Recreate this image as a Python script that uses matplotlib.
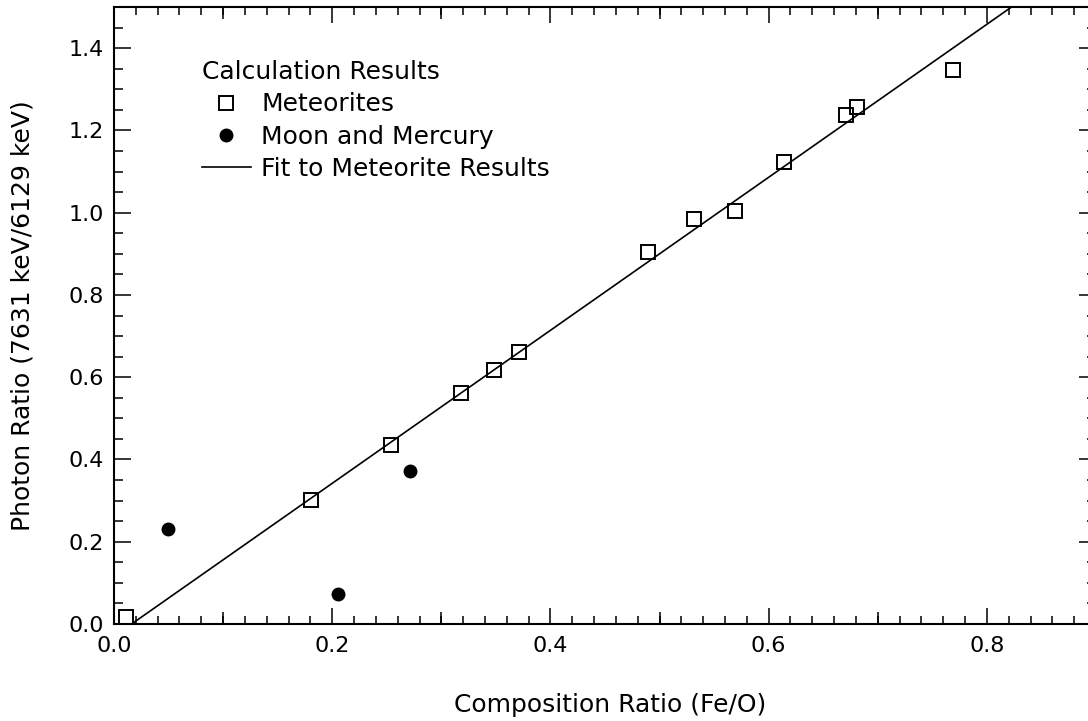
import matplotlib.pyplot as plt
from matplotlib.ticker import MultipleLocator, FormatStrFormatter
import numpy as np

plt.rcParams['font.family'] = ['DejaVu Sans']

# calculated photon ratios vs composition
meteorite_x = [0.011, 0.181, 0.254, 0.318, 0.348, 0.371, 0.489, 0.532, 0.569, 0.614, 0.671, 0.681, 0.769]
meteorite_y = [0.016, 0.302, 0.436, 0.562, 0.617, 0.662, 0.905, 0.984, 1.004, 1.124, 1.238, 1.257, 1.346]

moon_x = [0.0495, 0.205, 0.271]
moon_y = [0.232, 0.073, 0.373]

# linear fit to the meteorite points
fit_slope = 1.86
fit_intercept = -0.030

fig = plt.figure(figsize=(10.88, 7.21), dpi=100)
ax = fig.add_axes([114 / 1088, 1 - 624 / 721, (1096 - 114) / 1088, (624 - 7) / 721])

ax.plot(meteorite_x, meteorite_y, 's', ms=9.5, mfc='none', mec='black', mew=1.4,
        label='Meteorites', clip_on=False, zorder=3)
ax.plot(moon_x, moon_y, 'o', ms=9, color='black', label='Moon and Mercury', zorder=3)
fit_x = np.array([0.0, 0.9])
ax.plot(fit_x, fit_slope * fit_x + fit_intercept, color='black', lw=1.2,
        label='Fit to Meteorite Results')

ax.set_xlim(0, 0.9)
ax.set_ylim(0, 1.5)

ax.xaxis.set_major_locator(MultipleLocator(0.2))
ax.xaxis.set_minor_locator(MultipleLocator(0.02))
ax.yaxis.set_major_locator(MultipleLocator(0.2))
ax.yaxis.set_minor_locator(MultipleLocator(0.05))
ax.xaxis.set_major_formatter(FormatStrFormatter('%.1f'))
ax.yaxis.set_major_formatter(FormatStrFormatter('%.1f'))

ax.tick_params(which='both', direction='in', top=True, right=True, width=1.1, labelsize=16)
ax.tick_params(axis='x', which='major', length=11.5, pad=9)
ax.tick_params(axis='x', which='minor', length=5.8)
ax.tick_params(axis='y', which='major', length=12, pad=7)
ax.tick_params(axis='y', which='minor', length=6.5)

# mid-length ticks at the odd tenths, top and bottom
for loc in ['bottom', 'top']:
    sec = ax.secondary_xaxis(loc)
    sec.set_xticks([0.1, 0.3, 0.5, 0.7])
    sec.tick_params(direction='in', length=8.6, width=1.1,
                    labelbottom=False, labeltop=False)
    for sp in sec.spines.values():
        sp.set_visible(False)

for sp in ax.spines.values():
    sp.set_linewidth(1.5)

ax.set_xlabel('Composition Ratio (Fe/O)', fontsize=18)
ax.xaxis.set_label_coords(0.505, -0.112)
ax.set_ylabel('Photon Ratio (7631 keV/6129 keV)', fontsize=18)
ax.yaxis.set_label_coords(-0.081, 0.5)

ax.legend(title='Calculation Results', loc='upper left', bbox_to_anchor=(0.0893, 0.914),
          frameon=False, borderpad=0, borderaxespad=0, fontsize=18, title_fontsize=18,
          handlelength=1.96, handletextpad=0.43, labelspacing=0.33, alignment='left',
          numpoints=1)

fig.savefig('out.png', dpi=100)
